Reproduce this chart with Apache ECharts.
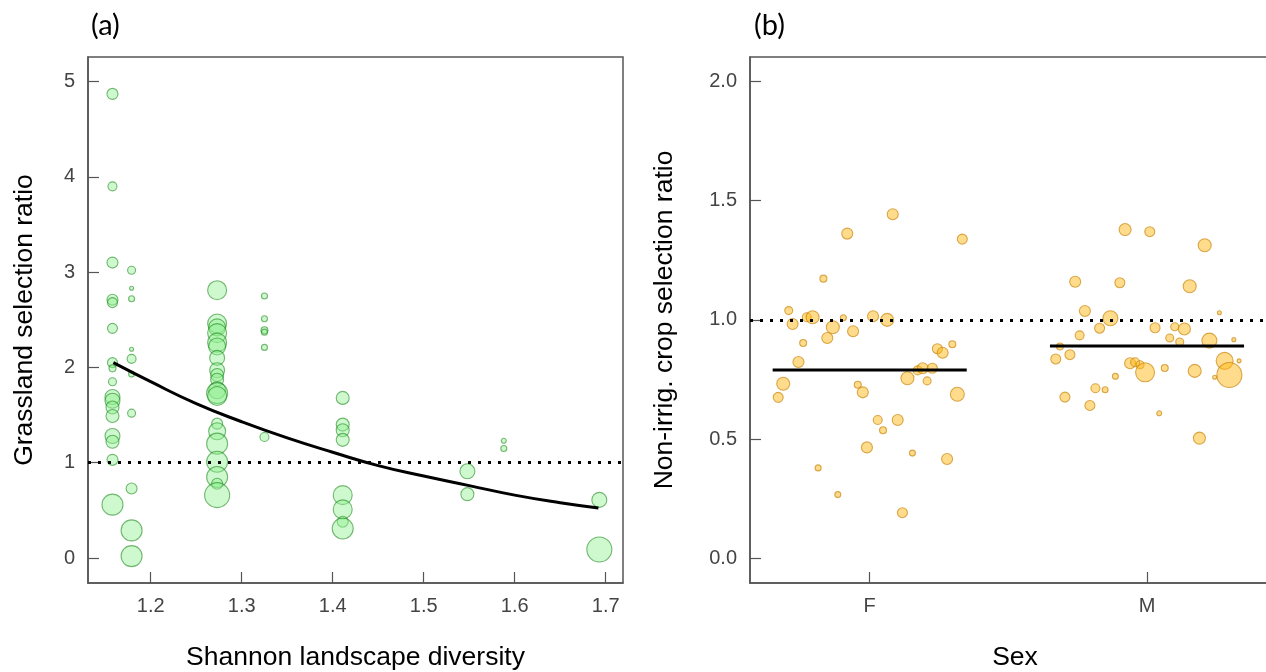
<!DOCTYPE html>
<html><head><meta charset="utf-8">
<script src="https://cdn.jsdelivr.net/npm/echarts@6/dist/echarts.min.js"></script>
<style>html,body{margin:0;padding:0;background:#fff;overflow:hidden}#c{width:1266px;height:672px}</style>
</head><body><div id="c"></div>
<script>
// ---------- Panel (a): grassland selection ratio vs Shannon diversity ----------
const grassX = [
  1.158,1.158,1.158,1.158,1.158,1.158,1.158,1.158,1.158,1.158,1.158,1.158,1.158,1.158,1.158,1.158,1.158,
  1.179,1.179,1.179,1.179,1.179,1.179,1.179,1.179,1.179,1.179,
  1.273,1.273,1.273,1.273,1.273,1.273,1.273,1.273,1.273,1.273,1.273,1.273,1.273,1.273,1.273,1.273,1.273,1.273,1.273,1.273,
  1.325,1.325,1.325,1.325,1.325,1.325,
  1.411,1.411,1.411,1.411,1.411,1.411,1.411,1.411,
  1.548,1.548,
  1.588,1.588,
  1.693,1.693
];
const grassY = [
  4.87,3.90,3.10,2.71,2.68,2.41,2.05,1.99,1.85,1.69,1.65,1.58,1.49,1.28,1.22,1.03,0.56,
  3.02,2.83,2.72,2.19,2.09,1.93,1.52,0.73,0.29,0.02,
  2.81,2.46,2.42,2.36,2.26,2.22,2.10,1.97,1.92,1.87,1.76,1.73,1.70,1.41,1.33,1.20,1.01,0.85,0.78,0.66,
  2.75,2.51,2.39,2.37,2.21,1.27,
  1.68,1.40,1.34,1.24,0.66,0.51,0.38,0.31,
  0.91,0.67,
  1.23,1.15,
  0.61,0.09
];
const grassW = [
  5,4,5,5,4.5,4.5,4.5,3,3.5,7,7,6,6,7,6,5,10,
  3.5,1.5,2.5,1.5,4,2.5,3.5,5,10,10,
  9,9,8,9,9,8,7,7,6,6,8,10,9,5,8,10,10,10,5,12,
  2.5,2.5,3,2.5,2.5,4,
  6,6,6,6,9,9,5,10,
  7,6,
  2,2.5,
  7,12
];
const curveX = [1.159,1.20,1.25,1.30,1.35,1.40,1.45,1.50,1.55,1.60,1.65,1.692];
const curveY = [2.05,1.85,1.62,1.43,1.26,1.11,0.97,0.86,0.76,0.66,0.58,0.525];
const xTicksA = [1.2,1.3,1.4,1.5,1.6,1.7];
const yTicksA = [0,1,2,3,4,5];
const refLineA = 1;

// ---------- Panel (b): non-irrigated crop selection ratio by sex ----------
const sexLabels = ['F','M'];
const cropFx = [1.083,0.919,1.334,0.833,0.708,0.722,0.773,0.794,0.867,0.905,0.847,0.940,0.760,1.012,1.063,1.244,1.263,1.298,0.743,0.688,0.670,1.173,1.191,1.226,1.136,1.207,1.316,0.957,0.975,1.029,1.101,1.048,0.990,1.154,1.279,0.814,0.885,1.118];
const cropFy = [1.443,1.362,1.339,1.173,1.039,0.983,1.011,1.011,0.969,1.009,0.924,0.952,0.903,1.015,1.000,0.879,0.862,0.898,0.823,0.732,0.675,0.788,0.797,0.797,0.755,0.744,0.688,0.728,0.696,0.580,0.580,0.537,0.465,0.441,0.416,0.379,0.267,0.191];
const cropFw = [5,5,4.5,3,3.5,5,4,6,6,2.5,5,5,3,5,6,4.5,5,3,5,6,4.5,4,5,4.5,6,3.5,6.5,3,5,4,5,3,5,2.5,5,2.5,2.5,4.5];
const cropMx = [1.921,2.010,2.208,1.741,1.902,2.154,1.776,1.868,2.261,1.829,2.029,2.100,2.135,1.757,2.082,2.118,2.225,2.313,1.686,1.722,1.671,1.939,1.957,1.975,1.993,2.064,2.172,2.280,2.297,2.332,2.244,1.886,1.814,1.849,1.704,1.794,2.044,2.189];
const cropMy = [1.379,1.370,1.313,1.160,1.156,1.141,1.037,1.007,1.030,0.965,0.967,0.971,0.962,0.935,0.924,0.907,0.913,0.917,0.888,0.854,0.836,0.818,0.822,0.812,0.780,0.798,0.786,0.828,0.769,0.828,0.759,0.763,0.713,0.707,0.676,0.641,0.608,0.504];
const cropMw = [5.5,4.5,6,5,4.5,6,5,7,1.5,4.5,4.5,3.5,5.5,4,3.5,3.5,7,1.5,3,4.5,4.5,5,4,3.5,9,3,6,8,12,1.5,1.5,2.5,4,2.5,4.5,4.5,2,5.5];
const meanF = 0.79;
const meanM = 0.89;
const yTicksB = [0,0.5,1,1.5,2];
const xTicksB = [1,2];
const refLineB = 1;

// ---------- build ----------
const zip3 = (a,b,c) => a.map((v,i)=>[v,b[i],c[i]]);
const AX = '#555', LBL = '#444', FONT = 'Liberation Sans';
const halfW = 0.35;

function axisCommon(ticks, fmt, name, gap, extra) {
  return Object.assign({
    type:'value',
    axisLine:{show:true, onZero:false, lineStyle:{color:AX, width:1.5}},
    axisTick:{show:true, inside:true, length:11, customValues:ticks, lineStyle:{color:AX, width:1.2}},
    axisLabel:{customValues:ticks, formatter:fmt, fontSize:20, color:LBL, margin:13, fontFamily:FONT},
    splitLine:{show:false},
    name:name, nameLocation:'middle', nameGap:gap,
    nameTextStyle:{fontSize:26.5, color:'#000', fontFamily:FONT}
  }, extra);
}

const dotted = {color:'#000', type:[3,7], width:3, cap:'butt'};

const option = {
  animation:false,
  backgroundColor:'#fff',
  title:[
    {text:'(a)', left:86, top:6, textStyle:{fontSize:29, fontWeight:'normal', fontFamily:'Lato', color:'#000'}},
    {text:'(b)', left:749, top:6, textStyle:{fontSize:29, fontWeight:'normal', fontFamily:'Lato', color:'#000'}}
  ],
  grid:[
    {left:88, top:57, width:535, height:526, show:true, borderColor:AX, borderWidth:1.5, backgroundColor:'transparent', outerBoundsMode:'none', containLabel:false},
    {left:750, top:57, width:530, height:526, show:true, borderColor:AX, borderWidth:1.5, backgroundColor:'transparent', outerBoundsMode:'none', containLabel:false}
  ],
  xAxis:[
    axisCommon(xTicksA, v=>v.toFixed(1), 'Shannon landscape diversity', 61, {gridIndex:0, min:1.1311, max:1.719}),
    axisCommon(xTicksB, v=>sexLabels[Math.round(v)-1], 'Sex', 61, {gridIndex:1, min:0.5683, max:2.4796})
  ],
  yAxis:[
    axisCommon(yTicksA, v=>String(v), 'Grassland selection ratio', 50, {gridIndex:0, min:-0.262, max:5.257}),
    axisCommon(yTicksB, v=>v.toFixed(1), 'Non-irrig. crop selection ratio', 72, {gridIndex:1, min:-0.104, max:2.103})
  ],
  series:[
    {
      type:'scatter', xAxisIndex:0, yAxisIndex:0,
      data:zip3(grassX, grassY, grassW),
      symbolSize:v=>v[2]*2+1,
      itemStyle:{color:'rgba(144,238,144,0.55)', borderColor:'rgba(20,130,20,0.7)', borderWidth:1.1},
      z:2
    },
    {
      type:'line', xAxisIndex:0, yAxisIndex:0,
      data:curveX.map((x,i)=>[x,curveY[i]]),
      smooth:true, showSymbol:false, symbol:'none',
      lineStyle:{color:'#000', width:3}, z:4
    },
    {
      type:'line', xAxisIndex:0, yAxisIndex:0, data:[], z:5,
      markLine:{silent:true, symbol:['none','none'], label:{show:false}, lineStyle:dotted, data:[{yAxis:refLineA}]}
    },
    {
      type:'scatter', xAxisIndex:1, yAxisIndex:1,
      data:zip3(cropFx, cropFy, cropFw).concat(zip3(cropMx, cropMy, cropMw)),
      symbolSize:v=>v[2]*2+1,
      itemStyle:{color:'rgba(255,185,20,0.62)', borderColor:'rgba(195,125,0,0.8)', borderWidth:1.1},
      z:2
    },
    {
      type:'line', xAxisIndex:1, yAxisIndex:1,
      data:[[xTicksB[0]-halfW, meanF],[xTicksB[0]+halfW, meanF]],
      showSymbol:false, symbol:'none', lineStyle:{color:'#000', width:3}, z:4
    },
    {
      type:'line', xAxisIndex:1, yAxisIndex:1,
      data:[[xTicksB[1]-halfW, meanM],[xTicksB[1]+halfW, meanM]],
      showSymbol:false, symbol:'none', lineStyle:{color:'#000', width:3}, z:4
    },
    {
      type:'line', xAxisIndex:1, yAxisIndex:1, data:[], z:5,
      markLine:{silent:true, symbol:['none','none'], label:{show:false}, lineStyle:dotted, data:[{yAxis:refLineB}]}
    }
  ]
};
const chart = echarts.init(document.getElementById('c'));
chart.setOption(option);
</script>
</body></html>
